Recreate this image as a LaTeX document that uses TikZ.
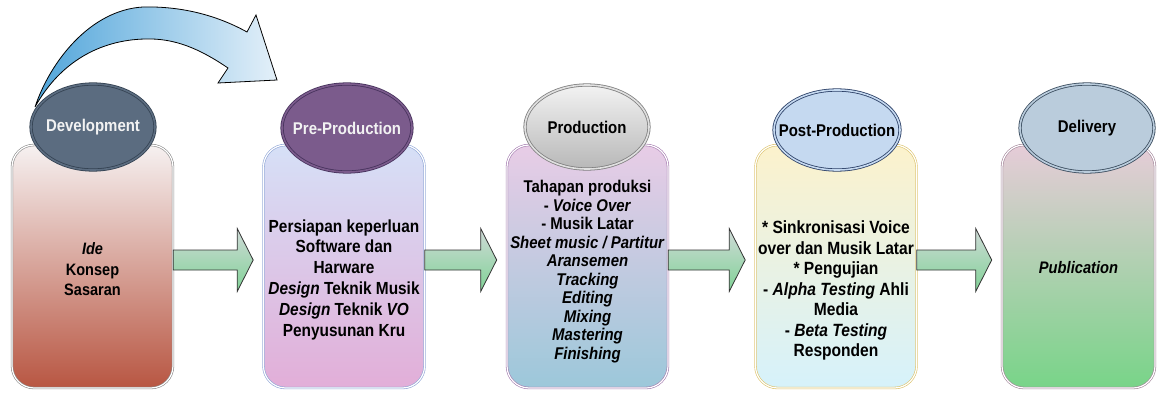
\documentclass[tikz,border=0pt]{standalone}
\usepackage{fontspec}
\setmainfont[FakeStretch=0.88]{Liberation Sans}
\usetikzlibrary{shapes.geometric,calc}
\definecolor{devfill}{RGB}{91,108,128}
\definecolor{devline}{RGB}{52,66,82}
\definecolor{prefill}{RGB}{123,91,140}
\definecolor{preline}{RGB}{70,50,92}
\definecolor{postfill}{RGB}{197,217,240}
\definecolor{postline}{RGB}{43,63,102}
\definecolor{delfill}{RGB}{186,204,220}
\definecolor{delline}{RGB}{58,76,94}
\definecolor{arrtop}{RGB}{208,218,216}
\definecolor{arrbot}{RGB}{128,210,150}

\begin{document}
\begin{tikzpicture}[x=1pt,y=1pt,
    box/.style={draw, double=white, double distance=1.2pt, line width=0.6pt,
      rounded corners=22pt, minimum width=161pt, minimum height=243pt, inner sep=0pt},
    phase/.style={ellipse, draw, double distance=1.6pt, line width=0.8pt, inner sep=0pt,
      font=\fontsize{17}{19}\selectfont\bfseries},
    txt/.style={align=center, font=\fontsize{17.5}{20.8}\selectfont\bfseries},
    flow/.style={draw=black!80, line width=0.8pt, top color=arrtop, bottom color=arrbot}]
      \useasboundingbox (0,0) rectangle (1157,392);

      % loop arrow above Development
      \draw[line width=0.8pt, left color={rgb,255:red,80;green,165;blue,218},
        right color={rgb,255:red,228;green,240;blue,249}]
      (35,285) .. controls (50,330) and (90,382) .. (143,385)
      .. controls (185,386) and (220,375) .. (247,360) -- (256,377) -- (277,312)
      -- (218,309) -- (228,324) .. controls (200,343) and (175,354) .. (145,353)
      .. controls (100,352) and (60,330) .. (35,285) -- cycle;

      % boxes
      \node (b1) at (92.5,125.5) [box, draw=black!45,
        top color={rgb,255:red,246;green,241;blue,241}, bottom color={rgb,255:red,184;green,86;blue,66}] {};
      \node (b2) at (344,125.5) [box, draw={rgb,255:red,143;green,165;blue,214},
        top color={rgb,255:red,214;green,224;blue,247}, bottom color={rgb,255:red,226;green,174;blue,216}] {};
      \node (b3) at (587.5,125.5) [box, draw={rgb,255:red,165;green,125;blue,176},
        top color={rgb,255:red,232;green,204;blue,230}, bottom color={rgb,255:red,156;green,200;blue,218}] {};
      \node (b4) at (836,125.5) [box, draw={rgb,255:red,220;green,194;blue,106},
        top color={rgb,255:red,252;green,242;blue,204}, bottom color={rgb,255:red,214;green,242;blue,251}] {};
      \node (b5) at (1078.5,125.5) [box, minimum width=153pt, draw={rgb,255:red,163;green,134;blue,154},
        top color={rgb,255:red,230;green,204;blue,216}, bottom color={rgb,255:red,120;green,212;blue,136}] {};

      % phase names
      \node (p1) at (93,265) [phase, draw=devline, fill=devfill, double=devfill,
        minimum width=124pt, minimum height=86pt, text=white!95!black] {\makebox[0pt]{Development}};
      \node (p2) at (347,264) [phase, draw=preline, fill=prefill, double=prefill,
        minimum width=130pt, minimum height=88pt, text=white!95!black] {\makebox[0pt]{Pre-Production}};
      \node (p3) at (587,265) [phase, draw=black!50, double=black!12, top color=black!5,
        bottom color=black!28, minimum width=124pt, minimum height=84pt] {\makebox[0pt]{Production}};
      \node (p4) at (837,262) [phase, draw=postline, fill=postfill, double=postfill,
        minimum width=126pt, minimum height=80pt] {\makebox[0pt]{Post-Production}};
      \node (p5) at (1087,264) [phase, draw=delline, fill=delfill, double=delfill,
        minimum width=134pt, minimum height=88pt] {\makebox[0pt]{Delivery}};

      % contents
      \node (t1) at (92.5,122.5) [txt, font=\fontsize{16.5}{20.5}\selectfont\bfseries]
        {\textit{Ide}\\Konsep\\Sasaran};
      \node (t2) at (344,112.5) [txt] {Persiapan keperluan\\Software dan\\Harware\\
        \textit{Design} Teknik Musik\\\textit{Design} Teknik \textit{VO}\\Penyusunan Kru};
      \node (t3) at (587.5,120.5) [txt, font=\fontsize{17}{18.5}\selectfont\bfseries]
        {Tahapan produksi\\- \textit{Voice Over}\\- Musik Latar\\\textit{Sheet music / Partitur}\\
        \textit{Aransemen}\\\textit{Tracking}\\\textit{Editing}\\\textit{Mixing}\\
        \textit{Mastering}\\\textit{Finishing}};
      \node (t4) at (836,101.5) [txt, font=\fontsize{17.7}{20.5}\selectfont\bfseries]
        {* Sinkronisasi Voice\\over dan Musik Latar\\* Pengujian\\- \textit{Alpha Testing} Ahli\\
        Media\\- \textit{Beta Testing}\\Responden};
      \node (t5) at (1078.5,124) [txt, font=\fontsize{16.7}{20}\selectfont\bfseries] {\textit{Publication}};

      % block arrows between boxes
      \foreach \a/\b in {b1/b2, b2/b3, b3/b4, b4/b5}
        \draw[flow] ($(\a.east)+(0,16.5)$) -- ($(\b.west)+(-26,16.5)$)
        -- ($(\b.west)+(-26,38)$) -- ($(\b.west)+(-10,6.5)$) -- ($(\b.west)+(-26,-25)$)
        -- ($(\b.west)+(-26,-3.5)$) -- ($(\a.east)+(0,-3.5)$) -- cycle;

\end{tikzpicture}
\end{document}
